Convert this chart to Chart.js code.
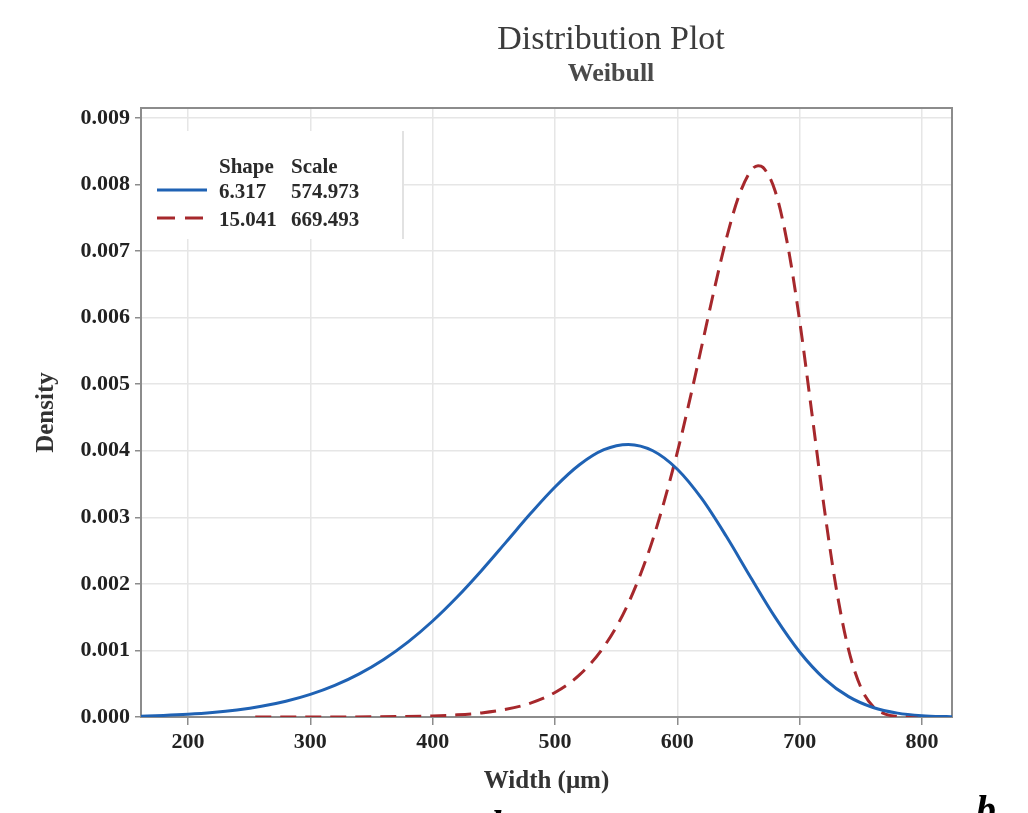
<!DOCTYPE html>
<html>
<head>
<meta charset="utf-8">
<title>Distribution Plot - Weibull</title>
<script src="https://cdn.jsdelivr.net/npm/chart.js@4.4.1/dist/chart.umd.min.js"></script>
<style>
  html, body { margin: 0; padding: 0; background: #fff; }
  canvas { display: block; }
</style>
</head>
<body>
<canvas id="dist-chart" width="1028" height="813"></canvas>
<script>
// Weibull density curves
const blueX = [160, 180, 200, 220, 240, 260, 280, 300, 320, 340, 360, 380, 400, 420, 440, 460, 480, 500,
    520, 540, 560, 580, 600, 620, 640, 660, 680, 700, 720, 740, 760, 780, 800, 820, 825];
const blueY = [0.0000122, 0.0000229, 0.0000400, 0.0000663, 0.0001051, 0.0001605, 0.0002370, 0.0003400,
    0.0004753, 0.0006487, 0.0008653, 0.0011295, 0.0014426, 0.0018027, 0.0022025, 0.0026276, 0.0030564,
    0.0034560, 0.0037899, 0.0040160, 0.0040958, 0.0040006, 0.0037225, 0.0032793, 0.0027145, 0.0020965,
    0.0014964, 0.0009774, 0.0005781, 0.0003061, 0.0001429, 0.0000580, 0.0000202, 0.0000059, 0.0000040];

const redX = [255, 300, 350, 400, 420, 440, 460, 480, 500, 520, 540, 560, 580, 600, 610, 620, 630, 640,
    650, 660, 666, 670, 680, 690, 700, 710, 720, 730, 740, 750, 760, 770, 780, 790, 797];
const redY = [0.0000000, 0.0000003, 0.0000025, 0.0000163, 0.0000322, 0.0000618, 0.0001152, 0.0002087,
    0.0003683, 0.0006325, 0.0010561, 0.0017095, 0.0026692, 0.0039779, 0.0047527, 0.0055772, 0.0064089,
    0.0071822, 0.0078141, 0.0082053, 0.0082840, 0.0082578, 0.0078986, 0.0071103, 0.0059487, 0.0045595,
    0.0031490, 0.0019202, 0.0010090, 0.0004444, 0.0001586, 0.0000441, 0.0000091, 0.0000014, 0.0000000];

const legendHeader = ['Shape', 'Scale'];
const shapes = ['6.317', '15.041'];
const scales = ['574.973', '669.493'];

const BLUE = '#1f62b4';
const RED = '#a6282c';
const SERIF = '"Liberation Serif", "Times New Roman", serif';

const toPoints = (xs, ys) => xs.map((x, i) => ({ x: x, y: ys[i] }));

// frame, legend box, titles and stray page letters
const decorPlugin = {
    id: 'decor',
    beforeDatasetsDraw(chart) {
        const ctx = chart.ctx;
        const a = chart.chartArea;
        ctx.save();
        // legend box
        ctx.fillStyle = '#fff';
        ctx.fillRect(a.left + 1, 131, 403 - a.left - 1, 108);
        ctx.strokeStyle = '#e2e2e2';
        ctx.lineWidth = 2;
        ctx.beginPath();
        ctx.moveTo(403, 131);
        ctx.lineTo(403, 239);
        ctx.stroke();
        // frame
        ctx.strokeStyle = '#8c8c8c';
        ctx.lineWidth = 2;
        ctx.strokeRect(a.left, a.top, a.right - a.left, a.bottom - a.top);
        ctx.restore();
    },
    afterDraw(chart) {
        const ctx = chart.ctx;
        ctx.save();
        // titles
        ctx.textAlign = 'center';
        ctx.textBaseline = 'alphabetic';
        ctx.fillStyle = '#3c3c3c';
        ctx.font = '34px ' + SERIF;
        ctx.fillText('Distribution Plot', 611, 49);
        ctx.fillStyle = '#4a4a4a';
        ctx.font = 'bold 26px ' + SERIF;
        ctx.fillText('Weibull', 611, 81);

        // legend
        ctx.textAlign = 'left';
        ctx.fillStyle = '#2a2a2a';
        ctx.font = 'bold 21px ' + SERIF;
        ctx.fillText(legendHeader[0], 219, 173);
        ctx.fillText(legendHeader[1], 291, 173);
        const rows = [198, 226];
        const lineY = [190, 218];
        const colors = [BLUE, RED];
        const dashes = [[], [18, 10]];
        for (let i = 0; i < shapes.length; i++) {
            ctx.fillText(shapes[i], 219, rows[i]);
            ctx.fillText(scales[i], 291, rows[i]);
            ctx.strokeStyle = colors[i];
            ctx.lineWidth = 3;
            ctx.setLineDash(dashes[i]);
            ctx.beginPath();
            ctx.moveTo(157, lineY[i]);
            ctx.lineTo(207, lineY[i]);
            ctx.stroke();
        }
        ctx.setLineDash([]);

        // cropped subfigure letters at page bottom
        ctx.fillStyle = '#000';
        ctx.font = 'italic bold 40px ' + SERIF;
        ctx.fillText('b', 976, 823);
        ctx.fillText('b', 491, 838);
        ctx.restore();
    }
};

const ctx = document.getElementById('dist-chart').getContext('2d');
const distChart = new Chart(ctx, {
    type: 'scatter',
    data: {
        datasets: [{
            label: 'Shape ' + shapes[0] + ', Scale ' + scales[0],
            data: toPoints(blueX, blueY),
            showLine: true,
            borderColor: BLUE,
            borderWidth: 3,
            pointRadius: 0,
            cubicInterpolationMode: 'monotone'
        }, {
            label: 'Shape ' + shapes[1] + ', Scale ' + scales[1],
            data: toPoints(redX, redY),
            showLine: true,
            borderColor: RED,
            borderWidth: 3,
            borderDash: [16, 9],
            pointRadius: 0,
            cubicInterpolationMode: 'monotone'
        }]
    },
    options: {
        responsive: false,
        animation: false,
        events: [],
        layout: { padding: { top: 108, right: 76, left: 0, bottom: 0 } },
        plugins: {
            legend: { display: false },
            tooltip: { enabled: false }
        },
        scales: {
            x: {
                type: 'linear',
                min: 161.6,
                max: 824.5,
                afterFit: (scale) => { scale.height = 96; },
                grid: { color: '#e6e6e6', lineWidth: 1.5, tickColor: '#8c8c8c', tickLength: 8 },
                border: { color: '#8c8c8c', width: 2 },
                ticks: {
                    stepSize: 100,
                    includeBounds: false,
                    padding: 4,
                    color: '#222',
                    font: { family: SERIF, size: 22, weight: 'bold' },
                    maxRotation: 0
                },
                title: {
                    display: true,
                    text: 'Width (μm)',
                    color: '#333',
                    font: { family: SERIF, size: 25, weight: 'bold' },
                    padding: { top: 0, bottom: 16 }
                }
            },
            y: {
                min: 0,
                max: 0.00915,
                afterFit: (scale) => { scale.width = 141; },
                grid: { color: '#e6e6e6', lineWidth: 1.5, tickColor: '#8c8c8c', tickLength: 6 },
                border: { color: '#8c8c8c', width: 2 },
                ticks: {
                    stepSize: 0.001,
                    includeBounds: false,
                    padding: 5,
                    color: '#222',
                    font: { family: SERIF, size: 22, weight: 'bold' },
                    callback: (v) => v.toFixed(3)
                },
                title: {
                    display: true,
                    text: 'Density',
                    color: '#333',
                    font: { family: SERIF, size: 25, weight: 'bold' },
                    padding: { top: 32, bottom: 0 }
                }
            }
        }
    },
    plugins: [decorPlugin]
});
</script>
</body>
</html>
